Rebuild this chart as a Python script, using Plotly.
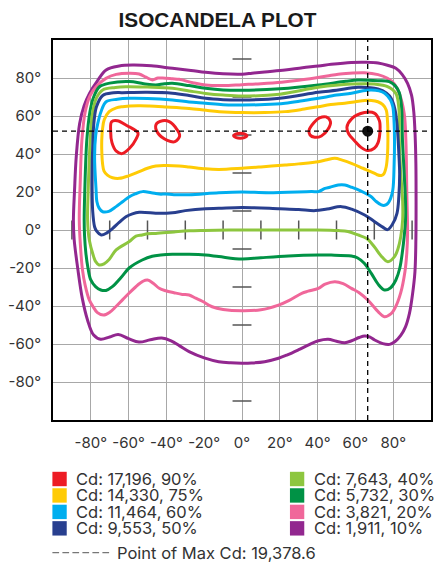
import plotly.graph_objects as go

# ---------------- data ----------------
title_text = "ISOCANDELA PLOT"
x_tick_vals = [-80, -60, -40, -20, 0, 20, 40, 60, 80]
x_tick_text = ["-80°", "-60°", "-40°", "-20°", "0°", "20°", "40°", "60°", "80°"]
y_tick_vals = [80, 60, 40, 20, 0, -20, -40, -60, -80]
y_tick_text = ["80°", "60°", "40°", "20°", "0°", "-20°", "-40°", "-60°", "-80°"]
center_tick_positions = [-90, -70, -50, -30, -10, 10, 30, 50, 70, 90]

max_cd_x = 66.5
max_cd_y = 52
max_cd_label = "Point of Max Cd: 19,378.6"

legend_labels = ["Cd: 17,196, 90%", "Cd: 14,330, 75%", "Cd: 11,464, 60%", "Cd: 9,553, 50%",
                 "Cd: 7,643, 40%", "Cd: 5,732, 30%", "Cd: 3,821, 20%", "Cd: 1,911, 10%"]
legend_colors = ["#ED1C24", "#FFCB05", "#00AEEF", "#283F8F",
                 "#8DC63F", "#009245", "#F0679A", "#92278F"]

# 10% (purple)
cd10_x = [0, 5.3, 12, 22.8, 32, 40.4, 47.2, 57.8, 66, 72, 77, 81.4, 84.8, 87.6, 89.7, 90.9, 91.6, 92, 92.1, 92,
          91.5, 90.2, 88.6, 86.5, 84, 81, 78.1, 74.5, 70.2, 67.5, 64.9, 62, 58, 54.4, 50, 45.6, 40.4, 35, 30, 24,
          19.3, 12, 5, 0, -6, -12.3, -20, -28, -33, -37.5, -42.5, -48.5, -54.5, -60, -65.5, -70, -74.8, -78.5,
          -81.7, -84.5, -86.8, -88.8, -89.2, -88.6, -87.7, -85.9, -83.5, -80.7, -76.5, -71.9, -65, -57.9, -48,
          -36.8, -27, -19.3, -10, 0]
cd10_y = [82, 82.5, 83.2, 84.2, 85.4, 86.3, 87.2, 88.2, 88.3, 87.9, 86.7, 85.1, 81.8, 77.2, 71, 62, 50, 35, 15, -5,
          -22, -34, -43.9, -51, -55.5, -58.7, -60.2, -59.8, -57.9, -56.3, -55.8, -56.6, -58.3, -59.3, -58.6, -57.5,
          -58.3, -60.6, -63, -65.7, -67.5, -69.3, -70, -70.1, -69.9, -69.3, -67.3, -64, -61, -58.3, -56.8, -57.8,
          -59, -57.2, -55, -56.3, -57.5, -55.3, -47.5, -36, -21, -5, 5, 21, 38.6, 56.1, 65.5, 71.9, 78.5, 84.2,
          86.3, 86.8, 86.4, 85.1, 84, 83, 82.2, 82]

# 20% (pink)
cd20_x = [0, 10, 21, 30, 38.6, 45, 50.9, 57, 64.7, 72, 77, 80.5, 83.2, 85.8, 86.7, 87.2, 87.6, 87.2, 86.2, 84,
          81, 78.9, 75.3, 72, 66.7, 62, 57.9, 53.5, 49.1, 44, 40.4, 35, 31.6, 25, 19.3, 10, 0, -10, -15.8, -21,
          -24.5, -28, -31.6, -36, -40.3, -43.8, -47, -50, -52.5, -55, -59.8, -63, -66.8, -70, -73.3, -76.5, -79,
          -80.8, -83, -84.4, -85.5, -86.1, -85.6, -84.7, -83, -80.5, -77.2, -72, -66.6, -59.6, -54.4, -50.8,
          -47.4, -44.5, -42, -36.8, -33.3, -26, -19.3, -10, 0]
cd20_y = [76.5, 77, 77.8, 78.8, 80, 81, 82, 82.5, 82.8, 81.8, 79.8, 77, 71.9, 61.4, 47.4, 20, -2, -12, -22, -33,
          -41, -44, -45.6, -43, -37, -33, -30.7, -28.2, -27.2, -28.5, -30.7, -32.2, -33.3, -37, -39.5, -42, -42.5,
          -41.8, -40.4, -37.5, -35.9, -34.2, -33.9, -33, -32, -30.7, -28, -26.3, -27, -28.8, -33.3, -36.5, -40.4,
          -43.3, -44.8, -43.5, -40, -36.8, -29, -21, -8, 5.3, 25, 47.4, 62, 70.5, 75.4, 79.8, 81.9, 82.5, 82.1,
          80.4, 79, 80, 80, 79.6, 79.3, 77.5, 76.3, 76, 76.5]

# 30% (green)
cd30_x = [0, 20, 40.4, 55, 61.4, 71.9, 77.9, 81, 83.2, 84.4, 84.9, 85.8, 86.5, 86.5, 85.8, 85, 83.5, 81.4, 78.5,
          75.4, 72, 68.5, 64.7, 61, 57.9, 47.2, 40.4, 24.6, 10, 0, -12.3, -19.3, -28, -36.8, -43, -47.5, -52.8,
          -59.7, -64, -68.6, -72, -74.7, -77.5, -80, -81.5, -82.6, -83.3, -83.5, -83.2, -82.1, -80.5, -78.5,
          -75.4, -70, -59.6, -52, -45.6, -41, -36.8, -28, -19.3, -10, 0]
cd30_y = [73.5, 74.3, 76.3, 78.3, 78.9, 78.6, 78.1, 76, 72.3, 65, 47.4, 30, 15, 5, -3.5, -10.5, -20, -26.3, -30.5,
          -31.6, -28.5, -23, -17.5, -14.6, -13.7, -13.2, -13.2, -13.7, -14.6, -15.3, -14, -13.2, -12.8, -12.8,
          -13.2, -13.8, -15.8, -20, -25, -29.8, -31.8, -31.6, -29.8, -26.3, -20, -12.3, -3, 5.3, 20, 47.4, 62,
          70, 75.4, 77.3, 78.1, 77, 76.3, 77, 77.2, 76, 74.6, 73.7, 73.5]

# 40% (light green)
cd40_x = [0, 20, 40.4, 57.9, 70, 77, 81.4, 83, 83.2, 84, 85, 85, 84, 82.5, 80.7, 77.2, 73.5, 70, 66, 61.4, 56,
          50.9, 40, 20, 0, -20, -28, -36, -45.6, -50, -52.8, -56.1, -59.8, -66.6, -70.3, -73, -75.6, -77.5,
          -78.5, -80.8, -81.7, -81.4, -80.3, -79, -77, -73.7, -67, -61.4, -50, -36.8, -28, -19.3, -10, 0]
cd40_y = [70.5, 71.5, 75.1, 76.8, 76.8, 75.5, 71.9, 64, 47.4, 30, 15, 5.3, -3.5, -10, -14, -16.7, -13.5, -8.8,
          -4.5, -2.6, -0.8, -0.3, 0, 0, 0, -0.2, -0.4, -1, -1.8, -2, -2.6, -3.2, -6.2, -10.5, -15.5, -17.8, -18.4,
          -16.5, -14, -5.3, 5.3, 20, 47.4, 62, 69.5, 73.7, 75, 75.4, 75.2, 74.6, 73.2, 71.9, 71, 70.5]

# 50% (navy)
cd50_x = [0, 20, 40.4, 50, 61.4, 71.9, 76.5, 78.9, 80.8, 82, 83, 83.4, 83, 82, 79.6, 77, 74.5, 70, 64.9, 58, 52.6,
          45, 38.6, 30, 20, 0, -12.3, -19.3, -30, -36.8, -43.8, -54.4, -58, -61.4, -65, -68.4, -71.5, -74.5,
          -77, -78, -79, -79.3, -78.9, -78.2, -77, -73.7, -68, -63.2, -50, -36.8, -28, -19.3, -10, 0]
cd50_y = [68.4, 69.3, 72.5, 73.5, 75.1, 74.2, 72, 69.3, 64, 56, 40, 29.8, 18, 8.8, 3, 0.2, 1.5, 4.5, 7.9, 11, 12.3,
          11, 10.2, 10.8, 11.2, 11.9, 11.4, 11.2, 10.2, 9.1, 8.8, 9.3, 8.5, 7, 4, 0.9, -1.5, -2.6, -0.5, 1.7, 10,
          21, 47.4, 58, 64.9, 70.8, 72.2, 72.3, 72.5, 72, 70.8, 69.3, 68.6, 68.4]

# 60% (light blue)
cd60_x = [0, 12, 22.8, 32, 40.4, 50, 57.9, 64, 68.4, 72.5, 75.5, 78.5, 79.8, 80.5, 80.7, 80.5, 79.8, 78.6, 77.2,
          75.5, 73.7, 71, 68.4, 63, 58, 54.4, 50.9, 46.5, 43.9, 40.4, 36.8, 14, 0, -12.3, -28, -36, -40.3, -43.8,
          -48, -52.6, -56.5, -59.6, -63, -66.6, -70.5, -73.7, -75.6, -76.8, -77.2, -78, -77.4, -76.3, -74.5,
          -71.9, -66, -59.6, -50, -36.8, -28, -19.3, -10, 0]
cd60_y = [65.8, 66, 66.7, 68, 69.3, 71, 72, 73.3, 73.7, 73.2, 72, 68.5, 64.9, 56, 47.4, 35, 21, 16.5, 14, 13, 13.2,
          15, 17.5, 20.5, 22.5, 23.7, 23.7, 22.5, 21.9, 20.2, 20.2, 19.6, 20, 19.6, 18.6, 18.6, 18.9, 18.9, 19.6,
          20.2, 19, 17.5, 15, 12.3, 9.8, 9.6, 11.5, 15, 21, 38.6, 50, 56.1, 62.5, 67.5, 68.8, 69.3, 69.2, 68.4,
          67.4, 66.7, 65.9, 65.8]

# 75% (yellow)
cd75_x = [0, 12, 22.8, 32, 40.4, 47, 54.4, 60, 64.9, 68.5, 71.9, 74.5, 76.3, 77, 77.2, 77, 76.3, 75, 73.7, 71.5,
          70.2, 64, 57.9, 53, 49.1, 45, 40.4, 30, 22.8, 10, 0, -12.3, -19.3, -28, -33.3, -40, -45.6, -50, -54.4,
          -60, -64.9, -68.5, -71.2, -73, -73.8, -74.2, -74.2, -73.8, -72.9, -70.3, -66.5, -63.2, -55, -49.1,
          -40, -28, -19, -12, 0]
cd75_y = [61.8, 61.8, 62.3, 63.5, 64.9, 66, 66.7, 67.5, 68.2, 68.2, 67.5, 66, 63.2, 57, 47.4, 40, 33.3, 29.5,
          28.7, 29.1, 29.8, 32.5, 35.1, 36.8, 37.7, 37, 35.9, 34.8, 34.2, 33.2, 32.5, 31.9, 32.2, 33.2, 33.7,
          33.9, 33.7, 32.5, 30.7, 28.5, 27.2, 27.5, 28.9, 31, 35.1, 42, 47.4, 53, 58, 62.3, 64.3, 64.9, 65.4,
          65.3, 64.8, 64, 63, 62.3, 61.8]

# 90% (red) - five small islands
cd90_a_x = [-69, -66, -61, -55, -56, -59.5, -63.5, -66.5, -68.8, -69.5, -69]
cd90_a_y = [57, 57.5, 55, 51, 48, 43, 40.2, 41.5, 46, 52, 57]
cd90_b_x = [-45.5, -42, -38.5, -34.5, -33, -35.5, -39.5, -44.5, -45.5]
cd90_b_y = [55.5, 57.5, 57, 53, 49.5, 46.5, 47.2, 51, 55.5]
cd90_c_x = [-4.4, -3, -1, 1.2, 2.6, 1.2, -1, -3, -4.4]
cd90_c_y = [49.6, 50.6, 50.9, 50.6, 49.6, 48.6, 48.3, 48.6, 49.6]
cd90_d_x = [35.5, 38, 41, 44.5, 46.8, 45.5, 42, 38.5, 36, 35.5]
cd90_d_y = [52.5, 56.5, 59, 59.5, 57, 53, 49.5, 48.8, 50, 52.5]
cd90_e_x = [55.5, 58, 64.8, 70, 72.7, 73, 72, 70, 66.5, 63, 59.5, 56.5, 55.5]
cd90_e_y = [54, 58.5, 61.8, 61.5, 57.5, 52, 46, 43, 41.8, 43.5, 47, 50.5, 54]

# ---------------- figure ----------------
W, H = 435, 562
ML, MR, MT, MB = 53, 2, 40, 142
FONT = "Inter, 'Liberation Sans', Arial, sans-serif"
TEXT_COLOR = "#333333"

fig = go.Figure()

# center cross ticks
tx, ty = [], []
for p in center_tick_positions:
    tx += [-5, 5, None]
    ty += [p, p, None]
    tx += [p, p, None]
    ty += [-5, 5, None]
fig.add_trace(go.Scatter(x=tx, y=ty, mode="lines", line=dict(color="#555555", width=1.5),
                         hoverinfo="skip", showlegend=False))

contours = [
    (cd10_x, cd10_y, legend_colors[7]),
    (cd20_x, cd20_y, legend_colors[6]),
    (cd30_x, cd30_y, legend_colors[5]),
    (cd40_x, cd40_y, legend_colors[4]),
    (cd50_x, cd50_y, legend_colors[3]),
    (cd60_x, cd60_y, legend_colors[2]),
    (cd75_x, cd75_y, legend_colors[1]),
    (cd90_a_x, cd90_a_y, legend_colors[0]),
    (cd90_b_x, cd90_b_y, legend_colors[0]),
    (cd90_c_x, cd90_c_y, legend_colors[0]),
    (cd90_d_x, cd90_d_y, legend_colors[0]),
    (cd90_e_x, cd90_e_y, legend_colors[0]),
]
for xs, ys, col in contours:
    fig.add_trace(go.Scatter(x=xs, y=ys, mode="lines",
                             line=dict(color=col, width=3, shape="spline", smoothing=1.0),
                             hoverinfo="skip", showlegend=False))

# max point dashed cross and dot
fig.add_shape(type="line", xref="x domain", yref="y", x0=0, x1=1, y0=max_cd_y, y1=max_cd_y,
              line=dict(color="black", width=1.3, dash="5px,4px"), layer="above")
fig.add_shape(type="line", xref="x", yref="y domain", x0=max_cd_x, x1=max_cd_x, y0=0, y1=1,
              line=dict(color="black", width=1.3, dash="5px,4px"), layer="above")
fig.add_trace(go.Scatter(x=[max_cd_x], y=[max_cd_y], mode="markers",
                         marker=dict(color="#111111", size=11), hoverinfo="skip", showlegend=False))

axis_common = dict(range=[-100, 100], showgrid=True, gridcolor="#a8a8a8", gridwidth=1.3,
                   showline=True, linecolor="black", linewidth=2, mirror=True, zeroline=False,
                   ticks="", tickfont=dict(family=FONT, size=15, color=TEXT_COLOR), fixedrange=True)
fig.update_xaxes(tickvals=x_tick_vals, ticktext=x_tick_text, ticklabelstandoff=8, **axis_common)
fig.update_yaxes(tickvals=y_tick_vals, ticktext=y_tick_text, ticklabelstandoff=7, **axis_common)

# manual legend
def pxx(px):
    return (px - ML) / (W - ML - MR)

def pxy(py):
    return (H - MB - py) / (H - MT - MB)

row_top0, pitch, sq = 471.8, 16.45, 14.4
col_sq_x = [52.4, 291.2]
col_text_x = [75.5, 314.5]
for i, (lab, col) in enumerate(zip(legend_labels, legend_colors)):
    c, r = divmod(i, 4)
    top = row_top0 + r * pitch
    fig.add_shape(type="rect", xref="paper", yref="paper",
                  x0=pxx(col_sq_x[c]), x1=pxx(col_sq_x[c] + sq), y0=pxy(top + sq), y1=pxy(top),
                  fillcolor=col, line=dict(width=0))
    fig.add_annotation(xref="paper", yref="paper", x=pxx(col_text_x[c]), y=pxy(top + sq / 2),
                       text=lab, showarrow=False, xanchor="left", yanchor="middle", borderpad=0,
                       font=dict(family=FONT, size=16.5, color=TEXT_COLOR))

fig.add_shape(type="line", xref="paper", yref="paper", x0=pxx(52.4), x1=pxx(109.4),
              y0=pxy(552.7), y1=pxy(552.7), line=dict(color="#777777", width=1.3, dash="6.7px,3.3px"))
fig.add_annotation(xref="paper", yref="paper", x=pxx(116.5), y=pxy(552.7), text=max_cd_label,
                   showarrow=False, xanchor="left", yanchor="middle", borderpad=0,
                   font=dict(family=FONT, size=16.5, color=TEXT_COLOR))

fig.update_layout(
    width=W, height=H, margin=dict(l=ML, r=MR, t=MT, b=MB),
    paper_bgcolor="white", plot_bgcolor="white",
    title=dict(text="<b>" + title_text + "</b>", x=0.5, xref="container", xanchor="center",
               y=1 - 19.7 / H, yref="container", yanchor="middle",
               font=dict(family="'Liberation Sans', Arial, sans-serif", size=20.8, color="#1a1a1a")),
    showlegend=False,
)

fig.write_html("out.html", config={"displayModeBar": False},
               post_script="document.body.style.margin='0';")
